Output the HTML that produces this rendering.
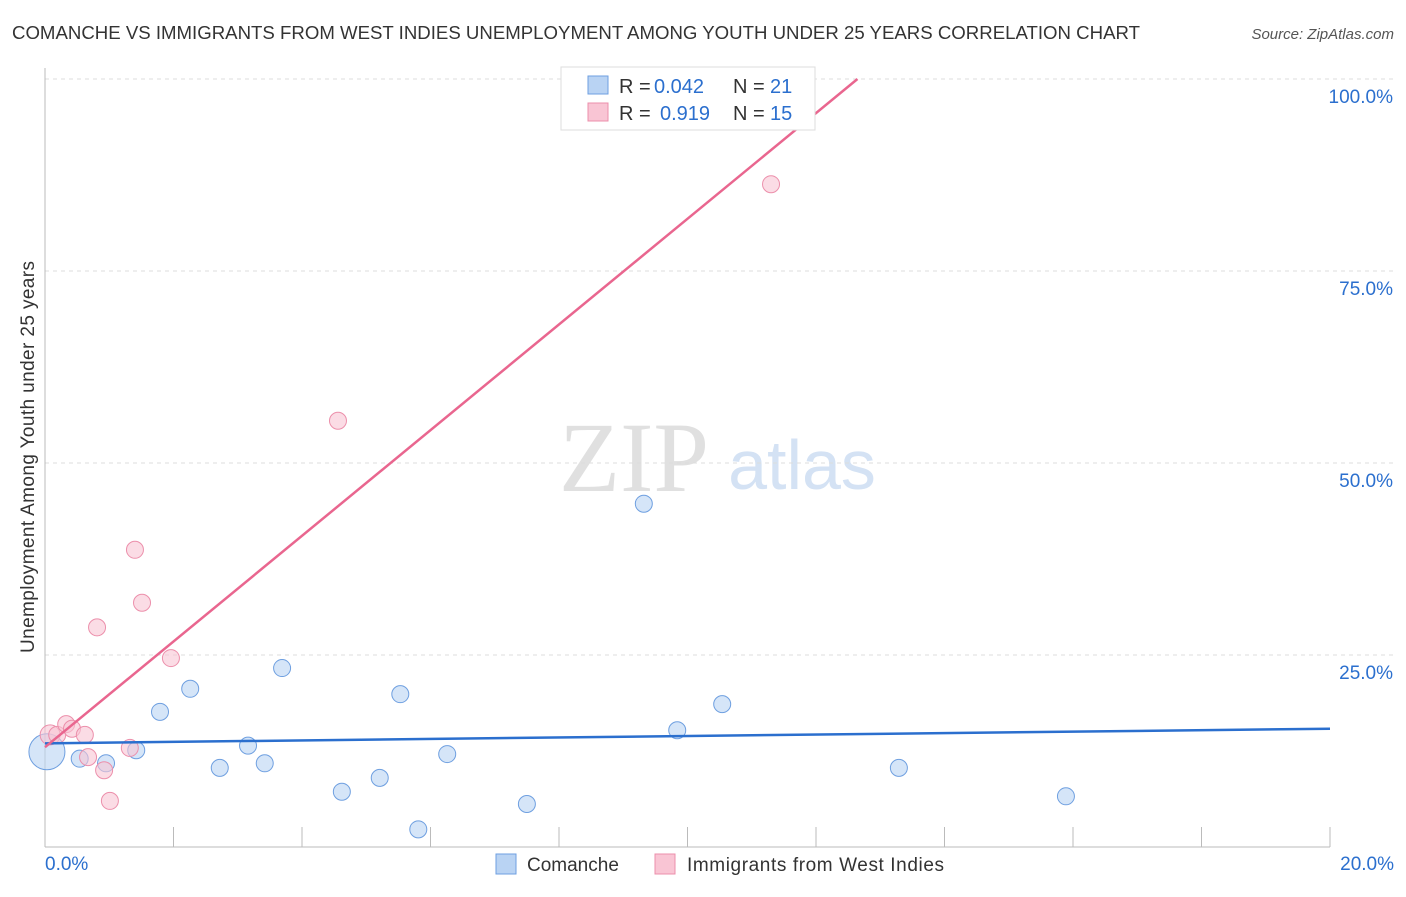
<!DOCTYPE html>
<html><head><meta charset="utf-8"><style>
body{margin:0;background:#fff;}
</style></head><body>
<svg id="chart" width="1406" height="892" font-family="Liberation Sans, sans-serif">
<text x="12" y="39" font-size="18" fill="#333" textLength="1128" lengthAdjust="spacingAndGlyphs">COMANCHE VS IMMIGRANTS FROM WEST INDIES UNEMPLOYMENT AMONG YOUTH UNDER 25 YEARS CORRELATION CHART</text>
<text x="1394" y="39" font-size="15" fill="#555" font-style="italic" text-anchor="end">Source: ZipAtlas.com</text>
<text x="634" y="491" font-size="100" fill="#e0e0e0" style="font-family:'Liberation Serif',serif" text-anchor="middle">ZIP</text>
<text x="802" y="489" font-size="70" fill="#d4e2f4" text-anchor="middle">atlas</text>
<text transform="translate(34,457) rotate(-90)" font-size="19" fill="#333" text-anchor="middle" textLength="392">Unemployment Among Youth under 25 years</text>
<g id="grid"></g><g id="marks"></g>
<g>
<rect x="561" y="67" width="254" height="63" fill="#fff" stroke="#ddd"/>
<rect x="588" y="76" width="20" height="18" fill="#b9d3f3" stroke="#6e9fe0"/>
<rect x="588" y="103" width="20" height="18" fill="#f9c5d4" stroke="#ec8fab"/>
<text x="619" y="93" font-size="20" fill="#333">R =</text>
<text x="654" y="93" font-size="20" fill="#2b6fce">0.042</text>
<text x="733" y="93" font-size="20" fill="#333">N =</text>
<text x="770" y="93" font-size="20" fill="#2b6fce">21</text>
<text x="619" y="120" font-size="20" fill="#333">R =</text>
<text x="660" y="120" font-size="20" fill="#2b6fce">0.919</text>
<text x="733" y="120" font-size="20" fill="#333">N =</text>
<text x="770" y="120" font-size="20" fill="#2b6fce">15</text>
</g>
<g>
<rect x="496" y="854" width="20" height="20" fill="#b9d3f3" stroke="#6e9fe0"/>
<text x="527" y="871" font-size="19" fill="#333">Comanche</text>
<rect x="655" y="854" width="20" height="20" fill="#f9c5d4" stroke="#ec8fab"/>
<text x="687" y="871" font-size="19" fill="#333" textLength="257">Immigrants from West Indies</text>
</g>
</svg>
<script>
const blueX=[0.03,0.54,0.95,1.42,1.79,2.26,2.72,3.16,3.42,3.69,4.62,5.21,5.53,5.81,6.26,7.50,9.32,9.84,10.54,13.29,15.89];
const blueY=[12.4,11.5,10.9,12.6,17.6,20.6,10.3,13.2,10.9,23.3,7.2,9.0,19.9,2.3,12.1,5.6,44.7,15.2,18.6,10.3,6.6];
const pinkX=[0.08,0.19,0.33,0.42,0.62,0.67,0.81,0.92,1.01,1.32,1.40,1.51,1.96,4.56,11.30];
const pinkY=[14.6,14.6,16.0,15.4,14.6,11.7,28.6,10.0,6.0,12.9,38.7,31.8,24.6,55.5,86.3];
const blueTrend=[13.5,15.4];
const pinkTrend=[13.0,6.88];
const yTicks=[25,50,75,100];
const xLabels=["0.0%","20.0%"];
const NS="http://www.w3.org/2000/svg";
const sx=v=>45+v/20*1285, sy=v=>847-v*7.68;
function mk(t,a,p){const e=document.createElementNS(NS,t);for(const k in a)e.setAttribute(k,a[k]);p.appendChild(e);return e;}
const g=document.getElementById('grid'),m=document.getElementById('marks');
yTicks.forEach(t=>{
 const l=mk('line',{x1:45,x2:1394,y1:sy(t),y2:sy(t),stroke:'#ddd','stroke-dasharray':'4,4'},g);
 
 
 const tx=mk('text',{x:1393,y:sy(t)+24,'font-size':19,fill:'#2b6fce','text-anchor':'end'},g);tx.textContent=t.toFixed(1)+'%';
 
 
});
mk('line',{x1:45,x2:45,y1:68,y2:847,stroke:'#bbb'},g);
mk('line',{x1:45,x2:1330,y1:847,y2:847,stroke:'#bbb'},g);
for(let i=1;i<=10;i++){const x=sx(i*2);mk('line',{x1:x,x2:x,y1:827,y2:847,stroke:'#bbb'},g);}
[[0,'start',45],[1,'end',1394]].forEach(([i,a,x])=>{const t=mk('text',{x:x,y:870,'font-size':19,fill:'#2b6fce','text-anchor':a},g);t.textContent=xLabels[i];
 
 });
blueX.forEach((x,i)=>{const c=mk('circle',{cx:sx(x),cy:sy(blueY[i]),r:i==0?18:8.5,fill:'rgba(185,211,243,0.6)',stroke:'#6e9fe0','stroke-width':1},m);
 
 });
pinkX.forEach((x,i)=>{const c=mk('circle',{cx:sx(x),cy:sy(pinkY[i]),r:i==0?10:8.5,fill:'rgba(249,197,212,0.6)',stroke:'#ec8fab','stroke-width':1},m);
 
 });
const bl=mk('line',{x1:sx(0),y1:sy(blueTrend[0]),x2:sx(20),y2:sy(blueTrend[1]),stroke:'#2b6fce','stroke-width':2.5},m);


const xe=(100-pinkTrend[0])/pinkTrend[1];
const pl=mk('line',{x1:sx(0),y1:sy(pinkTrend[0]),x2:sx(xe),y2:sy(100),stroke:'#e9668f','stroke-width':2.5},m);


</script>
</body></html>
